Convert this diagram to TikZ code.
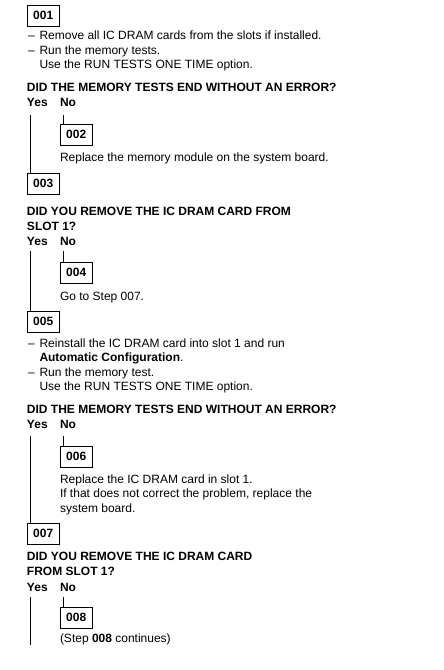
\documentclass[tikz,border=0pt]{standalone}
\usepackage{fontspec}
\setmainfont{Liberation Sans}
\begin{document}
\begin{tikzpicture}[x=1pt,y=-1pt,
  txt/.style={anchor=base west, inner sep=0pt, outer sep=0pt, font=\fontsize{12}{14}\selectfont},
  qtxt/.style={anchor=base west, inner sep=0pt, outer sep=0pt, font=\fontsize{12}{14}\selectfont\bfseries},
  stepbox/.style={draw, line width=1pt, minimum width=32.5pt, minimum height=21.5pt, inner sep=0pt, outer sep=0pt, anchor=north west, font=\fontsize{12}{14}\selectfont\bfseries},
  conn/.style={line width=1pt}]
\fill[white] (0,0) rectangle (444,670);
\useasboundingbox (0,0) rectangle (444,670);
% ---- Step 001
\node[stepbox] (b001) at (27,5) {001};
\node[txt] (d1) at (28,39.5) {–};
\node[txt] (t1) at (39.5,39.5) {Remove all IC DRAM cards from the slots if installed.};
\node[txt] (d2) at (28,54) {–};
\node[txt] (t2) at (39.5,54) {Run the memory tests.};
\node[txt] (t3) at (39.5,68.5) {Use the RUN TESTS ONE TIME option.};
\node[qtxt] (q1) at (27,91.5) {DID THE MEMORY TESTS END WITHOUT AN ERROR?};
\node[qtxt] (y1) at (27,106.5) {Yes};
\node[qtxt] (n1) at (60,106.5) {No};
\coordinate (ys1) at (30.5,115);
\coordinate (ns1) at (63,115);
\node[stepbox] (b002) at (60,124) {002};
\node[txt] (t4) at (60,161) {Replace the memory module on the system board.};
\node[stepbox] (b003) at (27,173) {003};
\draw[conn] (ys1) -- (ys1 |- b003.north);
\draw[conn] (ns1) -- (ns1 |- b002.north);
% ---- Step 003
\node[qtxt] (q2a) at (27,215) {DID YOU REMOVE THE IC DRAM CARD FROM};
\node[qtxt] (q2b) at (27,230) {SLOT 1?};
\node[qtxt] (y2) at (27,245) {Yes};
\node[qtxt] (n2) at (60,245) {No};
\coordinate (ys2) at (30.5,251);
\coordinate (ns2) at (63,251);
\node[stepbox] (b004) at (60,262) {004};
\node[txt] (t5) at (60,300) {Go to Step 007.};
\node[stepbox] (b005) at (27,311) {005};
\draw[conn] (ys2) -- (ys2 |- b005.north);
\draw[conn] (ns2) -- (ns2 |- b004.north);
% ---- Step 005
\node[txt] (d3) at (28,347) {–};
\node[txt] (t6) at (39.5,347) {Reinstall the IC DRAM card into slot 1 and run};
\node[txt] (t7) at (39.5,361.5) {\textbf{Automatic Configuration}.};
\node[txt] (d4) at (28,376) {–};
\node[txt] (t8) at (39.5,376) {Run the memory test.};
\node[txt] (t9) at (39.5,390.5) {Use the RUN TESTS ONE TIME option.};
\node[qtxt] (q3) at (27,413) {DID THE MEMORY TESTS END WITHOUT AN ERROR?};
\node[qtxt] (y3) at (27,428) {Yes};
\node[qtxt] (n3) at (60,428) {No};
\coordinate (ys3) at (30.5,436);
\coordinate (ns3) at (63,436);
\node[stepbox] (b006) at (60,446) {006};
\node[txt] (t10) at (60,483) {Replace the IC DRAM card in slot 1.};
\node[txt] (t11) at (60,497.5) {If that does not correct the problem, replace the};
\node[txt] (t12) at (60,512) {system board.};
\node[stepbox] (b007) at (27,523) {007};
\draw[conn] (ys3) -- (ys3 |- b007.north);
\draw[conn] (ns3) -- (ns3 |- b006.north);
% ---- Step 007
\node[qtxt] (q4a) at (27,560) {DID YOU REMOVE THE IC DRAM CARD};
\node[qtxt] (q4b) at (27,575.5) {FROM SLOT 1?};
\node[qtxt] (y4) at (27,591) {Yes};
\node[qtxt] (n4) at (60,591) {No};
\coordinate (ys4) at (30.5,597);
\coordinate (ns4) at (63,597);
\coordinate (ye4) at (30.5,645);
\node[stepbox] (b008) at (60,607) {008};
\node[txt] (t13) at (60,642) {(Step \textbf{008} continues)};
\draw[conn] (ys4) -- (ye4);
\draw[conn] (ns4) -- (ns4 |- b008.north);
\end{tikzpicture}
\end{document}
